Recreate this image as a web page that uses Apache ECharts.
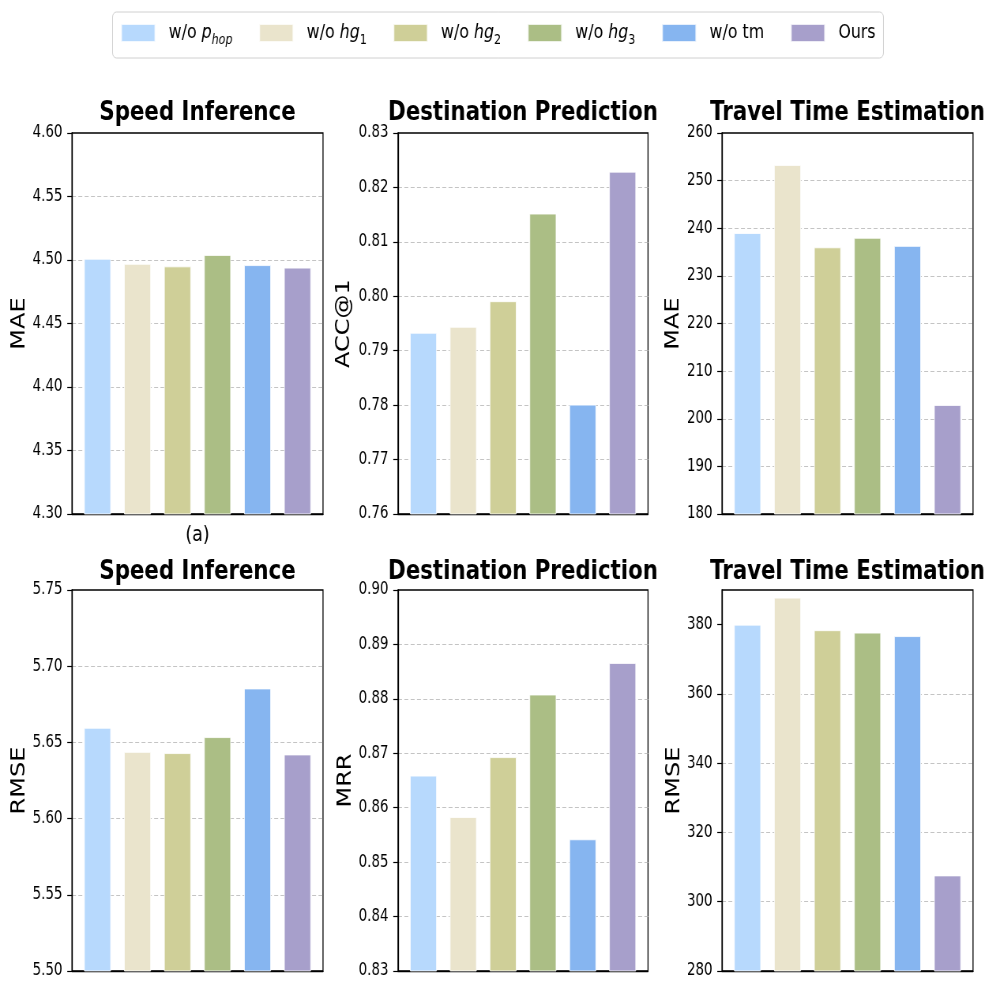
<!DOCTYPE html>
<html>
<head>
<meta charset="utf-8">
<script src="https://cdn.jsdelivr.net/npm/echarts@6/dist/echarts.min.js"></script>
<style>
html,body{margin:0;padding:0;background:#fff;overflow:hidden;width:996px;height:996px;}
#c{width:1261px;height:996px;transform:scaleX(0.789849);transform-origin:0 0;}
</style>
</head>
<body>
<div id="c"></div>
<script>
// ---- data ----
const methods = ['w/o p_hop', 'w/o hg1', 'w/o hg2', 'w/o hg3', 'w/o tm', 'Ours'];
const colors = ['#B7D9FD', '#EAE4CC', '#CFCF98', '#ABBE85', '#86B5F0', '#A79FCB'];
const titles = ['Speed Inference', 'Destination Prediction', 'Travel Time Estimation',
                'Speed Inference', 'Destination Prediction', 'Travel Time Estimation'];
const yNames = ['MAE', 'ACC@1', 'MAE', 'RMSE', 'MRR', 'RMSE'];
const speedMAE   = [4.501, 4.497, 4.495, 4.504, 4.496, 4.494];
const destACC    = [0.7933, 0.7944, 0.7991, 0.8152, 0.7801, 0.8229];
const travelMAE  = [239.0, 253.3, 236.0, 238.0, 236.3, 202.9];
const speedRMSE  = [5.6596, 5.6438, 5.6430, 5.6535, 5.6854, 5.6421];
const destMRR    = [0.8659, 0.8583, 0.8693, 0.8808, 0.8542, 0.8866];
const travelRMSE = [380.0, 387.8, 378.4, 377.7, 376.7, 307.6];
const yMin = [4.30, 0.76, 180, 5.50, 0.83, 280];
const yMax = [4.60, 0.83, 260, 5.75, 0.90, 390];
const yInterval = [0.05, 0.01, 10, 0.05, 0.01, 20];
const yDecimals = [2, 2, 0, 2, 2, 0];
const travelRMSETicks = [280, 300, 320, 340, 360, 380];

const panelValues = [speedMAE, destACC, travelMAE, speedRMSE, destMRR, travelRMSE];

// ---- layout (image px; x converted for horizontal squash) ----
const S = 996 / 1261;
const X = v => v / S;
const FONT = 'DejaVu Sans';
const cols = [{l: 72, w: 251}, {l: 398, w: 250}, {l: 722, w: 251}];
const rows = [{t: 133, h: 381}, {t: 590, h: 381}];
const nameGaps = [54, 56, 49, 54, 52, 47];
const titleY = [113, 572];

const grids = [], xAxes = [], yAxes = [], series = [], graphics = [];
for (let p = 0; p < 6; p++) {
  const c = cols[p % 3], r = rows[Math.floor(p / 3)];
  grids.push({left: X(c.l), top: r.t, width: X(c.w), height: r.h, show: true,
    borderColor: '#000', borderWidth: 1.3, backgroundColor: 'transparent'});
  xAxes.push({gridIndex: p, type: 'value', min: -0.6375, max: 5.6375,
    axisLabel: {show: false}, axisTick: {show: false}, splitLine: {show: false},
    axisLine: {show: true, onZero: false, lineStyle: {color: '#000', width: 1.3}}});
  const dec = yDecimals[p];
  const y = {gridIndex: p, type: 'value', min: yMin[p], max: yMax[p], interval: yInterval[p],
    axisLine: {show: true, onZero: false, lineStyle: {color: '#000', width: 1.3}},
    axisTick: {show: true, length: 6, lineStyle: {color: '#000', width: 1.2}},
    axisLabel: {color: '#000', fontSize: 17, fontFamily: FONT, margin: 12,
      formatter: v => Number(v).toFixed(dec)},
    splitLine: {show: true, showMinLine: false, showMaxLine: false,
      lineStyle: {type: [5, 3], color: '#c4c4c4', width: 1}},
    name: yNames[p], nameLocation: 'middle', nameGap: nameGaps[p],
    nameTextStyle: {fontSize: 24, color: '#000', fontFamily: FONT}};
  if (p === 5) {
    y.axisTick.customValues = travelRMSETicks;
    y.axisLabel.customValues = travelRMSETicks;
  }
  yAxes.push(y);
  for (let m = 0; m < 6; m++) {
    series.push({type: 'bar', name: methods[m], xAxisIndex: p, yAxisIndex: p,
      data: [[m, panelValues[p][m]]], barWidth: X(27), barGap: '-100%',
      itemStyle: {color: colors[m], borderColor: 'rgba(255,255,255,0.8)', borderWidth: 1},
      animation: false});
  }
  graphics.push({type: 'text', x: X(c.l + c.w / 2), y: titleY[Math.floor(p / 3)],
    style: {text: titles[p], fill: '#000', fontSize: 27, fontWeight: 'bold', fontFamily: FONT,
      textAlign: 'center', textVerticalAlign: 'middle'}});
}
graphics.push({type: 'text', x: X(197.5), y: 535,
  style: {text: '(a)', fill: '#000', fontSize: 22, fontFamily: FONT,
    textAlign: 'center', textVerticalAlign: 'middle'}});

const legendRich = {
  sp: {width: 12},
  n: {fontSize: 20, lineHeight: 28, fontFamily: FONT, color: '#000'},
  i: {fontSize: 20, lineHeight: 28, fontStyle: 'italic', fontFamily: FONT, color: '#000'},
  subi: {fontSize: 14, lineHeight: 14, fontStyle: 'italic', verticalAlign: 'bottom', fontFamily: FONT, color: '#000'},
  sub: {fontSize: 14, lineHeight: 14, verticalAlign: 'bottom', fontFamily: FONT, color: '#000'}
};
function legendFmt(name) {
  if (name === 'w/o p_hop') return '{sp|}{n|w/o }{i|p}{subi|hop}';
  const mm = name.match(/^w\/o hg(\d)$/);
  if (mm) return '{sp|}{n|w/o }{i|hg}{sub|' + mm[1] + '}';
  return '{sp|}{n|' + name + '}';
}

const chart = echarts.init(document.getElementById('c'), null, {renderer: 'canvas'});
chart.setOption({
  backgroundColor: '#fff',
  animation: false,
  textStyle: {fontFamily: FONT},
  legend: {top: 12, left: 'center', data: methods, icon: 'rect', itemWidth: X(34), itemHeight: 18,
    itemGap: 33, padding: [11, 10, 11, 10], borderColor: '#d0d0d0', borderWidth: 1, borderRadius: 5,
    backgroundColor: '#fff', selectedMode: false,
    textStyle: {fontSize: 20, color: '#000', fontFamily: FONT, rich: legendRich},
    formatter: legendFmt},
  grid: grids, xAxis: xAxes, yAxis: yAxes, series: series, graphic: graphics
});
</script>
</body>
</html>
